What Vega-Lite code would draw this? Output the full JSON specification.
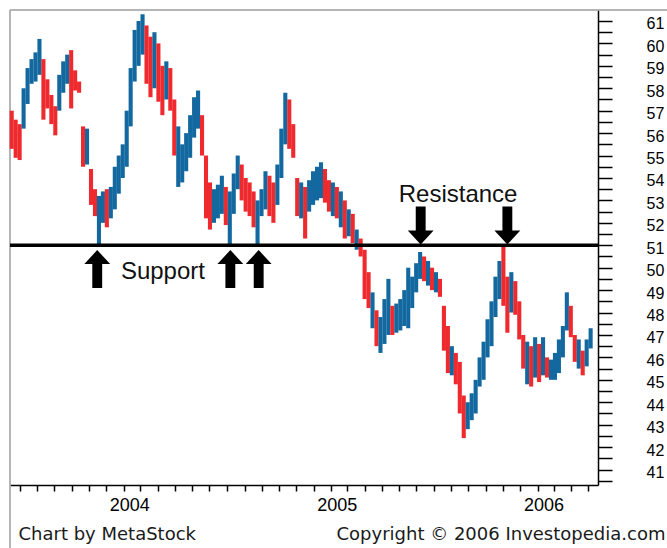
{
  "$schema": "https://vega.github.io/schema/vega-lite/v6.json",
  "width": 588,
  "height": 475,
  "autosize": {"type": "none"},
  "padding": {"left": 10, "top": 10, "right": 69, "bottom": 63},
  "background": "white",
  "config": {"view": {"stroke": null}},
  "datasets": {
    "prices": [
      {"d":"2003-07-18","hi":57.0,"lo":55.3,"dir":"down"},
      {"d":"2003-07-25","hi":56.6,"lo":54.9,"dir":"down"},
      {"d":"2003-08-01","hi":56.4,"lo":54.8,"dir":"down"},
      {"d":"2003-08-08","hi":58.0,"lo":56.2,"dir":"up"},
      {"d":"2003-08-15","hi":58.9,"lo":57.3,"dir":"up"},
      {"d":"2003-08-22","hi":59.3,"lo":58.2,"dir":"up"},
      {"d":"2003-08-29","hi":59.6,"lo":58.3,"dir":"up"},
      {"d":"2003-09-05","hi":60.2,"lo":58.6,"dir":"up"},
      {"d":"2003-09-12","hi":59.3,"lo":56.6,"dir":"down"},
      {"d":"2003-09-19","hi":58.4,"lo":57.1,"dir":"down"},
      {"d":"2003-09-26","hi":57.7,"lo":56.4,"dir":"down"},
      {"d":"2003-10-03","hi":57.2,"lo":55.9,"dir":"down"},
      {"d":"2003-10-10","hi":58.6,"lo":57.0,"dir":"up"},
      {"d":"2003-10-17","hi":59.2,"lo":57.8,"dir":"up"},
      {"d":"2003-10-24","hi":59.5,"lo":58.2,"dir":"up"},
      {"d":"2003-10-31","hi":59.7,"lo":57.1,"dir":"down"},
      {"d":"2003-11-07","hi":58.8,"lo":57.9,"dir":"down"},
      {"d":"2003-11-14","hi":58.3,"lo":57.8,"dir":"down"},
      {"d":"2003-11-21","hi":56.3,"lo":54.5,"dir":"down"},
      {"d":"2003-11-28","hi":56.2,"lo":54.6,"dir":"up"},
      {"d":"2003-12-05","hi":54.4,"lo":52.8,"dir":"down"},
      {"d":"2003-12-12","hi":53.5,"lo":52.3,"dir":"down"},
      {"d":"2003-12-19","hi":53.2,"lo":51.0,"dir":"up"},
      {"d":"2003-12-26","hi":53.4,"lo":52.0,"dir":"up"},
      {"d":"2004-01-02","hi":53.5,"lo":51.8,"dir":"down"},
      {"d":"2004-01-09","hi":53.6,"lo":52.2,"dir":"up"},
      {"d":"2004-01-16","hi":54.5,"lo":52.6,"dir":"up"},
      {"d":"2004-01-23","hi":55.0,"lo":53.3,"dir":"up"},
      {"d":"2004-01-30","hi":55.5,"lo":54.0,"dir":"up"},
      {"d":"2004-02-06","hi":57.0,"lo":54.5,"dir":"up"},
      {"d":"2004-02-13","hi":58.9,"lo":56.3,"dir":"up"},
      {"d":"2004-02-20","hi":60.6,"lo":58.3,"dir":"up"},
      {"d":"2004-02-27","hi":61.0,"lo":59.0,"dir":"up"},
      {"d":"2004-03-05","hi":61.3,"lo":59.5,"dir":"up"},
      {"d":"2004-03-12","hi":60.8,"lo":58.2,"dir":"down"},
      {"d":"2004-03-19","hi":60.3,"lo":57.6,"dir":"down"},
      {"d":"2004-03-26","hi":60.5,"lo":58.0,"dir":"up"},
      {"d":"2004-04-02","hi":60.0,"lo":57.4,"dir":"down"},
      {"d":"2004-04-09","hi":59.0,"lo":56.8,"dir":"down"},
      {"d":"2004-04-16","hi":59.2,"lo":57.5,"dir":"up"},
      {"d":"2004-04-23","hi":58.9,"lo":57.0,"dir":"down"},
      {"d":"2004-04-30","hi":57.5,"lo":55.0,"dir":"down"},
      {"d":"2004-05-07","hi":56.3,"lo":53.6,"dir":"up"},
      {"d":"2004-05-14","hi":55.5,"lo":53.8,"dir":"up"},
      {"d":"2004-05-21","hi":56.0,"lo":54.3,"dir":"up"},
      {"d":"2004-05-28","hi":56.8,"lo":54.9,"dir":"up"},
      {"d":"2004-06-04","hi":57.6,"lo":55.8,"dir":"up"},
      {"d":"2004-06-11","hi":57.9,"lo":56.2,"dir":"up"},
      {"d":"2004-06-18","hi":56.8,"lo":55.0,"dir":"down"},
      {"d":"2004-06-25","hi":55.0,"lo":52.2,"dir":"down"},
      {"d":"2004-07-02","hi":53.8,"lo":51.7,"dir":"down"},
      {"d":"2004-07-09","hi":53.5,"lo":52.0,"dir":"up"},
      {"d":"2004-07-16","hi":53.7,"lo":52.2,"dir":"up"},
      {"d":"2004-07-23","hi":54.1,"lo":52.4,"dir":"up"},
      {"d":"2004-07-30","hi":53.6,"lo":51.9,"dir":"down"},
      {"d":"2004-08-06","hi":53.4,"lo":51.05,"dir":"up"},
      {"d":"2004-08-13","hi":54.2,"lo":52.4,"dir":"up"},
      {"d":"2004-08-20","hi":55.0,"lo":53.5,"dir":"up"},
      {"d":"2004-08-27","hi":54.6,"lo":53.0,"dir":"down"},
      {"d":"2004-09-03","hi":54.0,"lo":52.5,"dir":"down"},
      {"d":"2004-09-10","hi":53.8,"lo":52.3,"dir":"down"},
      {"d":"2004-09-17","hi":53.4,"lo":51.8,"dir":"down"},
      {"d":"2004-09-24","hi":53.0,"lo":51.05,"dir":"up"},
      {"d":"2004-10-01","hi":53.5,"lo":52.3,"dir":"up"},
      {"d":"2004-10-08","hi":54.3,"lo":52.6,"dir":"up"},
      {"d":"2004-10-15","hi":54.1,"lo":52.3,"dir":"down"},
      {"d":"2004-10-22","hi":53.8,"lo":52.0,"dir":"down"},
      {"d":"2004-10-29","hi":54.6,"lo":52.8,"dir":"up"},
      {"d":"2004-11-05","hi":56.2,"lo":54.0,"dir":"up"},
      {"d":"2004-11-12","hi":57.8,"lo":55.5,"dir":"up"},
      {"d":"2004-11-19","hi":57.5,"lo":55.3,"dir":"down"},
      {"d":"2004-11-26","hi":56.4,"lo":54.9,"dir":"down"},
      {"d":"2004-12-03","hi":54.0,"lo":52.3,"dir":"down"},
      {"d":"2004-12-10","hi":53.8,"lo":52.2,"dir":"up"},
      {"d":"2004-12-17","hi":53.6,"lo":51.3,"dir":"down"},
      {"d":"2004-12-24","hi":53.9,"lo":52.5,"dir":"up"},
      {"d":"2004-12-31","hi":54.3,"lo":52.8,"dir":"up"},
      {"d":"2005-01-07","hi":54.5,"lo":53.0,"dir":"up"},
      {"d":"2005-01-14","hi":54.7,"lo":53.1,"dir":"up"},
      {"d":"2005-01-21","hi":54.4,"lo":52.9,"dir":"down"},
      {"d":"2005-01-28","hi":53.9,"lo":52.5,"dir":"down"},
      {"d":"2005-02-04","hi":53.8,"lo":52.3,"dir":"up"},
      {"d":"2005-02-11","hi":53.6,"lo":52.2,"dir":"down"},
      {"d":"2005-02-18","hi":53.4,"lo":51.8,"dir":"up"},
      {"d":"2005-02-25","hi":53.0,"lo":51.3,"dir":"down"},
      {"d":"2005-03-04","hi":52.6,"lo":51.4,"dir":"up"},
      {"d":"2005-03-11","hi":52.4,"lo":51.1,"dir":"down"},
      {"d":"2005-03-18","hi":51.7,"lo":50.8,"dir":"up"},
      {"d":"2005-03-25","hi":51.3,"lo":50.5,"dir":"down"},
      {"d":"2005-04-01","hi":50.8,"lo":48.6,"dir":"down"},
      {"d":"2005-04-08","hi":49.8,"lo":48.2,"dir":"down"},
      {"d":"2005-04-15","hi":48.9,"lo":47.3,"dir":"up"},
      {"d":"2005-04-22","hi":48.1,"lo":46.5,"dir":"down"},
      {"d":"2005-04-29","hi":47.8,"lo":46.2,"dir":"up"},
      {"d":"2005-05-06","hi":48.6,"lo":46.6,"dir":"up"},
      {"d":"2005-05-13","hi":49.5,"lo":47.0,"dir":"up"},
      {"d":"2005-05-20","hi":48.3,"lo":47.0,"dir":"down"},
      {"d":"2005-05-27","hi":48.4,"lo":47.1,"dir":"up"},
      {"d":"2005-06-03","hi":48.6,"lo":47.2,"dir":"up"},
      {"d":"2005-06-10","hi":49.0,"lo":47.4,"dir":"up"},
      {"d":"2005-06-17","hi":50.0,"lo":47.3,"dir":"up"},
      {"d":"2005-06-24","hi":49.6,"lo":48.2,"dir":"up"},
      {"d":"2005-07-01","hi":50.2,"lo":48.9,"dir":"up"},
      {"d":"2005-07-08","hi":50.7,"lo":49.5,"dir":"up"},
      {"d":"2005-07-15","hi":50.5,"lo":49.4,"dir":"down"},
      {"d":"2005-07-22","hi":50.3,"lo":49.2,"dir":"up"},
      {"d":"2005-07-29","hi":50.0,"lo":49.0,"dir":"down"},
      {"d":"2005-08-05","hi":49.8,"lo":48.9,"dir":"up"},
      {"d":"2005-08-12","hi":49.5,"lo":48.7,"dir":"down"},
      {"d":"2005-08-19","hi":48.3,"lo":46.3,"dir":"down"},
      {"d":"2005-08-26","hi":47.4,"lo":45.3,"dir":"down"},
      {"d":"2005-09-02","hi":46.5,"lo":45.2,"dir":"up"},
      {"d":"2005-09-09","hi":46.2,"lo":44.8,"dir":"down"},
      {"d":"2005-09-16","hi":45.8,"lo":43.5,"dir":"down"},
      {"d":"2005-09-23","hi":44.3,"lo":42.4,"dir":"down"},
      {"d":"2005-09-30","hi":44.0,"lo":42.8,"dir":"up"},
      {"d":"2005-10-07","hi":44.4,"lo":43.2,"dir":"up"},
      {"d":"2005-10-14","hi":45.0,"lo":43.5,"dir":"up"},
      {"d":"2005-10-21","hi":46.0,"lo":44.7,"dir":"up"},
      {"d":"2005-10-28","hi":46.7,"lo":45.0,"dir":"up"},
      {"d":"2005-11-04","hi":47.7,"lo":46.0,"dir":"up"},
      {"d":"2005-11-11","hi":48.5,"lo":46.5,"dir":"up"},
      {"d":"2005-11-18","hi":49.6,"lo":47.8,"dir":"up"},
      {"d":"2005-11-25","hi":50.3,"lo":48.6,"dir":"up"},
      {"d":"2005-12-02","hi":50.95,"lo":48.3,"dir":"down"},
      {"d":"2005-12-09","hi":49.6,"lo":47.1,"dir":"down"},
      {"d":"2005-12-16","hi":49.8,"lo":48.0,"dir":"up"},
      {"d":"2005-12-23","hi":49.4,"lo":47.9,"dir":"down"},
      {"d":"2005-12-30","hi":48.5,"lo":46.8,"dir":"down"},
      {"d":"2006-01-06","hi":47.0,"lo":45.5,"dir":"down"},
      {"d":"2006-01-13","hi":46.7,"lo":44.8,"dir":"up"},
      {"d":"2006-01-20","hi":46.5,"lo":44.7,"dir":"down"},
      {"d":"2006-01-27","hi":46.9,"lo":45.1,"dir":"up"},
      {"d":"2006-02-03","hi":46.6,"lo":44.9,"dir":"down"},
      {"d":"2006-02-10","hi":46.9,"lo":45.2,"dir":"up"},
      {"d":"2006-02-17","hi":46.0,"lo":45.1,"dir":"down"},
      {"d":"2006-02-24","hi":45.9,"lo":45.0,"dir":"up"},
      {"d":"2006-03-03","hi":46.2,"lo":45.0,"dir":"up"},
      {"d":"2006-03-10","hi":46.8,"lo":45.3,"dir":"up"},
      {"d":"2006-03-17","hi":47.4,"lo":46.0,"dir":"up"},
      {"d":"2006-03-24","hi":48.9,"lo":47.2,"dir":"up"},
      {"d":"2006-03-31","hi":48.3,"lo":46.9,"dir":"down"},
      {"d":"2006-04-07","hi":47.0,"lo":45.8,"dir":"down"},
      {"d":"2006-04-14","hi":46.8,"lo":45.5,"dir":"up"},
      {"d":"2006-04-21","hi":46.3,"lo":45.2,"dir":"down"},
      {"d":"2006-04-28","hi":46.8,"lo":45.6,"dir":"up"},
      {"d":"2006-05-05","hi":47.3,"lo":46.4,"dir":"up"}
    ],
    "arrows": [
      {"d":"2003-12-16","level":49.94,"kind":"up"},
      {"d":"2004-08-07","level":49.94,"kind":"up"},
      {"d":"2004-09-26","level":49.94,"kind":"up"},
      {"d":"2005-07-09","level":51.88,"kind":"down"},
      {"d":"2005-12-09","level":51.88,"kind":"down"}
    ],
    "notes": [
      {"d":"2004-04-10","level":49.81,"label":"Support"},
      {"d":"2005-09-13","level":53.24,"label":"Resistance"}
    ]
  },
  "layer": [
    {
      "data": {"values": [{}]},
      "mark": {"type": "rule", "color": "#9c9c9c", "strokeWidth": 1.5},
      "encoding": {
        "x": {"datum": {"year": 2003, "month": 7, "date": 15, "utc": true}},
        "x2": {"datum": {"year": 2006, "month": 9, "date": 20, "utc": true}},
        "y": {"datum": 61.49}
      }
    },
    {
      "data": {"values": [{}]},
      "mark": {"type": "rule", "color": "#9c9c9c", "strokeWidth": 1.5},
      "encoding": {
        "x": {"datum": {"year": 2003, "month": 7, "date": 15, "utc": true}},
        "y": {"datum": 61.49},
        "y2": {"datum": 37.5}
      }
    },
    {
      "data": {"name": "prices"},
      "mark": {"type": "rule", "strokeWidth": 4.1},
      "encoding": {
        "x": {
          "field": "d",
          "type": "temporal",
          "scale": {
            "type": "utc",
            "domain": [
              {"year": 2003, "month": 7, "date": 15, "utc": true},
              {"year": 2006, "month": 5, "date": 18, "utc": true}
            ]
          },
          "axis": {
            "orient": "bottom",
            "title": "Copyright © 2006 Investopedia.com",
            "titleX": 326,
            "titleY": 54,
            "titleAlign": "left",
            "titleBaseline": "alphabetic",
            "titleFont": "DejaVu Sans",
            "titleFontSize": 18,
            "titleFontWeight": "normal",
            "titleColor": "#1a1a1a",
            "tickCount": {"interval": "month", "step": 1},
            "grid": false,
            "domainColor": "#000",
            "domainWidth": 1.5,
            "tickColor": "#000",
            "tickWidth": 1.5,
            "tickSize": 6,
            "labelExpr": "utcmonth(datum.value) == 0 ? utcFormat(datum.value, '%Y') : ''",
            "labelAlign": "left",
            "labelOffset": 3,
            "labelPadding": 19,
            "labelBaseline": "alphabetic",
            "labelFont": "Liberation Sans",
            "labelFontSize": 18,
            "labelColor": "#000",
            "labelOverlap": false,
            "labelFlush": false,
            "encode": {"ticks": {"y2": {"value": {"expr": "utcmonth(datum.value) == 0 ? 27 : 6"}}}}
          }
        },
        "y": {
          "field": "lo",
          "type": "quantitative",
          "scale": {"domain": [40.31, 61.49], "nice": false, "zero": false},
          "axis": {
            "orient": "right",
            "values": [40.5,41,41.5,42,42.5,43,43.5,44,44.5,45,45.5,46,46.5,47,47.5,48,48.5,49,49.5,50,50.5,51,51.5,52,52.5,53,53.5,54,54.5,55,55.5,56,56.5,57,57.5,58,58.5,59,59.5,60,60.5,61,61.5],
            "tickCount": 100,
            "title": "Chart by MetaStock",
            "titleX": -580,
            "titleY": 529,
            "titleAngle": 0,
            "titleAlign": "left",
            "titleBaseline": "alphabetic",
            "titleFont": "DejaVu Sans",
            "titleFontSize": 18,
            "titleFontWeight": "normal",
            "titleColor": "#1a1a1a",
            "grid": false,
            "domainColor": "#000",
            "domainWidth": 1.5,
            "tickColor": "#000",
            "tickWidth": 1.5,
            "tickSize": 14,
            "labelExpr": "datum.value % 1 == 0 ? format(datum.value, 'd') : ''",
            "labelPadding": 34,
            "labelAlign": "left",
            "labelBaseline": "middle",
            "labelOffset": 3,
            "labelFont": "Liberation Sans",
            "labelFontSize": 16,
            "labelColor": "#000",
            "labelOverlap": false,
            "labelFlush": false,
            "encode": {"ticks": {"x2": {"value": {"expr": "datum.value % 1 == 0 ? 14 : 6"}}}}
          }
        },
        "y2": {"field": "hi"},
        "color": {
          "field": "dir",
          "type": "nominal",
          "scale": {"domain": ["up", "down"], "range": ["#13699f", "#ee2a2e"]},
          "legend": null
        }
      }
    },
    {
      "data": {"values": [{}]},
      "mark": {"type": "rule", "color": "#000", "strokeWidth": 3.5},
      "encoding": {"y": {"datum": 51}}
    },
    {
      "data": {"name": "arrows"},
      "mark": {"type": "point", "filled": true, "fill": "#000", "stroke": null, "size": 1444, "opacity": 1},
      "encoding": {
        "x": {"field": "d", "type": "temporal"},
        "y": {"field": "level", "type": "quantitative"},
        "shape": {
          "field": "kind",
          "type": "nominal",
          "scale": {
            "domain": ["up", "down"],
            "range": [
              "M0,-1L0.68,-0.26L0.26,-0.26L0.26,1L-0.26,1L-0.26,-0.26L-0.68,-0.26Z",
              "M0,1L0.68,0.26L0.26,0.26L0.26,-1L-0.26,-1L-0.26,0.26L-0.68,0.26Z"
            ]
          },
          "legend": null
        }
      }
    },
    {
      "data": {"name": "notes"},
      "mark": {"type": "text", "font": "Liberation Sans", "fontSize": 24, "fill": "#111", "align": "center", "baseline": "middle"},
      "encoding": {
        "x": {"field": "d", "type": "temporal"},
        "y": {"field": "level", "type": "quantitative"},
        "text": {"field": "label"}
      }
    }
  ]
}
